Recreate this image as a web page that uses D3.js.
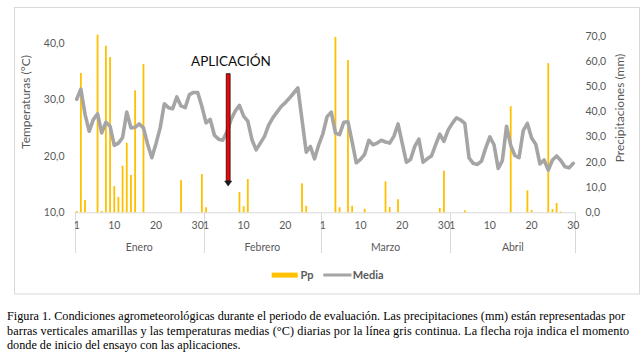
<!DOCTYPE html>
<html><head><meta charset="utf-8">
<script src="https://cdn.jsdelivr.net/npm/d3@7"></script>
<style>
html,body{margin:0;padding:0;background:#fff;}
svg{display:block;}
</style></head>
<body>
<svg id="chart" width="642" height="355"></svg>
<script>
const months = ["Enero","Febrero","Marzo","Abril"];
const monthDays = [31,28,31,30];
const tickDays = [1,10,20,30];
const tempTicks = [10,20,30,40];
const ppTicks = [0,10,20,30,40,50,60,70];

const tempEnero = [30.1,31.9,27.4,24.4,26.5,27.5,24.1,26.0,25.3,21.9,22.3,23.3,27.8,25.0,25.1,25.7,25.0,22.1,19.7,22.2,25.0,29.3,28.6,28.4,30.5,28.9,28.6,30.9,31.3,31.3,28.8];
const tempFebrero = [25.9,26.5,23.7,23.0,22.8,24.3,26.5,28.0,29.0,27.1,26.2,22.9,21.1,22.3,23.5,25.5,26.8,27.8,28.8,29.5,30.3,31.2,32.1,26.4,20.7,21.7,19.5,22.0];
const tempMarzo = [24.0,27.0,27.8,24.1,23.8,26.0,26.1,22.5,18.8,19.4,20.3,22.8,22.0,22.3,22.8,22.5,22.3,23.5,25.7,22.3,18.9,19.4,21.7,23.0,18.9,19.5,20.0,22.0,23.9,22.6,24.6];
const tempAbril = [25.8,26.8,26.4,25.8,19.7,18.7,18.5,19.1,21.4,23.4,22.0,17.8,19.2,25.3,21.9,20.1,19.7,24.5,25.8,23.2,22.1,18.6,19.3,17.5,19.3,20.0,19.2,18.1,17.9,18.7];

const ppEnero = [0.5,55.3,4.9,0,0,70.5,0.5,66.1,61.6,10.4,6.1,18.5,27.6,14.8,48.4,0,58.8,0,0,0,0,0,0,0,0,12.8,0,0,0,0,15.2];
const ppFebrero = [2.0,0,0,0,0,0,0,0,8.1,2.4,13.2,0,0,0,0,0,0,0,0,0,0,0,0,11.5,2.6,0,0,0];
const ppMarzo = [0,0,0,69.6,2.0,0,60.4,2.6,0,0,1.4,0,0,0,0,12.3,2.1,0,5.2,0,0,0,0,0,0,0,0,0,1.7,16.5,0];
const ppAbril = [0,0,0,0.8,0,0,0,0,0,0,0,0,0,0,42.1,0,0,0,8.7,0.9,0,0,0,59.2,1.3,3.7,0.3,0,0,0];

const aplicacionDia = 36.3;          // fractional day index (Feb 6-7)
const aplicacionRango = [55, 10.4];  // mm, arrow top and tip on the right axis

const captionLines = [
  "Figura 1. Condiciones agrometeorológicas durante el periodo de evaluación. Las precipitaciones (mm) están representadas por",
  "barras verticales amarillas y las temperaturas medias (°C) diarias por la línea gris continua. La flecha roja indica el momento",
  "donde de inicio del ensayo con las aplicaciones."
];

// ---- build table
const temps = [tempEnero,tempFebrero,tempMarzo,tempAbril];
const pps = [ppEnero,ppFebrero,ppMarzo,ppAbril];
const days = [];
months.forEach((m,mi)=>{
  for(let d=1; d<=monthDays[mi]; d++){
    days.push({i:days.length, month:m, mi:mi, day:d, t:temps[mi][d-1], p:pps[mi][d-1]});
  }
});

const svg = d3.select("#chart");
const FONT = "Lato, 'Open Sans', sans-serif";
const GREY = "#595959";

// frame
svg.append("rect").attr("x",14.5).attr("y",7.5).attr("width",625).attr("height",286.5)
  .attr("fill","none").attr("stroke","#D9D9D9").attr("stroke-width",1);

const x = d3.scaleBand().domain(days.map(d=>d.i)).range([74.6,575.4]).padding(0);
const bw = x.bandwidth();
const xc = i => x.range()[0] + (i+0.5)*bw;
const yT = d3.scaleLinear().domain([10,40]).range([212.3,43.5]);
const yP = d3.scaleLinear().domain([0,70]).range([212.3,35.9]);
const fmt = d3.formatLocale({decimal:",",thousands:".",grouping:[3],currency:["",""]}).format(".1f");

// left axis
const gL = svg.append("g");
gL.selectAll("text").data(tempTicks).join("text")
  .attr("x",64.5).attr("y",d=>yT(d)).attr("dy","0.35em").attr("text-anchor","end")
  .attr("font-family",FONT).attr("font-size",10.5).attr("fill",GREY).text(fmt);
svg.append("text").attr("transform","translate(30,102) rotate(-90)").attr("text-anchor","middle")
  .attr("font-family",FONT).attr("font-size",12).attr("fill",GREY).text("Temperaturas (°C)");

// right axis
svg.append("g").selectAll("text").data(ppTicks).join("text")
  .attr("x",585.5).attr("y",d=>yP(d)).attr("dy","0.35em").attr("text-anchor","start")
  .attr("font-family",FONT).attr("font-size",10.5).attr("fill",GREY).text(fmt);
svg.append("text").attr("transform","translate(624,108) rotate(-90)").attr("text-anchor","middle")
  .attr("font-family",FONT).attr("font-size",12).attr("fill",GREY).text("Precipitaciones (mm)");

// x axis line and month separators
svg.append("line").attr("x1",x.range()[0]).attr("x2",x.range()[1]).attr("y1",212.8).attr("y2",212.8)
  .attr("stroke","#D9D9D9").attr("stroke-width",1);
const monthStarts = [];
let acc = 0;
monthDays.forEach(n=>{monthStarts.push(acc); acc+=n;});
const seps = monthStarts.map(s=>x(s)).concat([x.range()[1]]);
svg.append("g").selectAll("line").data(seps).join("line")
  .attr("x1",d=>Math.round(d)+0.5).attr("x2",d=>Math.round(d)+0.5).attr("y1",212.8).attr("y2",253)
  .attr("stroke","#D9D9D9").attr("stroke-width",1);

// day tick labels
const tickData = days.filter(d=>tickDays.includes(d.day));
svg.append("g").selectAll("text").data(tickData).join("text")
  .attr("x",d=>xc(d.i)).attr("y",225.5).attr("dy","0.35em").attr("text-anchor","middle")
  .attr("font-family",FONT).attr("font-size",10.5).attr("fill",GREY).text(d=>d.day);

// month labels
svg.append("g").selectAll("text").data(months).join("text")
  .attr("x",(m,i)=>(x(monthStarts[i]) + x(monthStarts[i]+monthDays[i]-1)+bw)/2)
  .attr("y",247).attr("dy","0.35em").attr("text-anchor","middle")
  .attr("font-family",FONT).attr("font-size",10.5).attr("fill",GREY).text(m=>m);

// bars
const barW = 1.8;
svg.append("g").selectAll("rect").data(days.filter(d=>d.p>0)).join("rect")
  .attr("x",d=>xc(d.i)-barW/2).attr("width",barW)
  .attr("y",d=>yP(d.p)).attr("height",d=>yP(0)-yP(d.p))
  .attr("fill","#FFC000");

// line
const line = d3.line().x(d=>xc(d.i)).y(d=>yT(d.t));
svg.append("path").datum(days).attr("d",line).attr("fill","none")
  .attr("stroke","#A5A5A5").attr("stroke-width",3.6).attr("stroke-linejoin","round").attr("stroke-linecap","round");

// annotation
const ax = xc(aplicacionDia);
const aTop = yP(aplicacionRango[0]), aTip = yP(aplicacionRango[1]);
const headH = 5, shaftW = 3.8, headW = 7;
svg.append("path")
  .attr("d",`M${ax-shaftW/2},${aTop} L${ax+shaftW/2},${aTop} L${ax+shaftW/2},${aTip-headH} L${ax-shaftW/2},${aTip-headH} Z`)
  .attr("fill","#FF0000").attr("stroke","#1a1a1a").attr("stroke-width",0.9);
svg.append("path")
  .attr("d",`M${ax-headW/2},${aTip-headH} L${ax+headW/2},${aTip-headH} L${ax},${aTip} Z`)
  .attr("fill","#1a1a1a").attr("stroke","#1a1a1a").attr("stroke-width",0.6);
svg.append("text").attr("x",231).attr("y",61.5).attr("dy","0.35em").attr("text-anchor","middle")
  .attr("font-family",FONT).attr("font-size",13.5).attr("fill","#0d0d0d").text("APLICACIÓN");

// legend
const lg = svg.append("g");
lg.append("rect").attr("x",271.7).attr("y",272.6).attr("width",26).attr("height",5).attr("fill","#FFC000");
lg.append("text").attr("x",300.5).attr("y",275).attr("dy","0.35em").attr("font-family",FONT)
  .attr("font-weight","bold").attr("font-size",11).attr("fill",GREY).text("Pp");
lg.append("line").attr("x1",323.3).attr("x2",351.5).attr("y1",275).attr("y2",275)
  .attr("stroke","#A5A5A5").attr("stroke-width",3);
lg.append("text").attr("x",352.8).attr("y",275).attr("dy","0.35em").attr("font-family",FONT)
  .attr("font-weight","bold").attr("font-size",11).attr("fill",GREY).text("Media");

// caption
const cap = svg.append("g").attr("font-family","'Liberation Serif', 'Times New Roman', serif")
  .attr("font-size",12.2).attr("fill","#000");
const capY = [320,334.5,349];
const capLen = [618,622,null];
captionLines.forEach((t,i)=>{
  const el = cap.append("text").attr("x",7).attr("y",capY[i]).text(t);
  if(capLen[i]) el.attr("textLength",capLen[i]).attr("lengthAdjust","spacing");
});
</script>
</body></html>
